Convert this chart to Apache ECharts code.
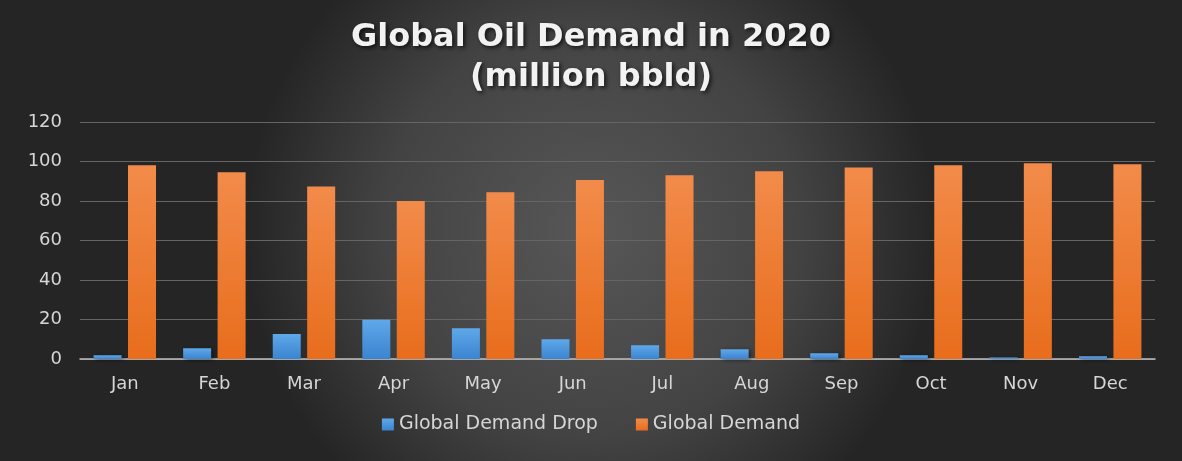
<!DOCTYPE html>
<html><head><meta charset="utf-8">
<script src="https://cdn.jsdelivr.net/npm/echarts@6/dist/echarts.min.js"></script>
<style>html,body{margin:0;padding:0;background:#333;}#c{width:1182px;height:461px;}</style>
</head><body><div id="c"></div>
<script>
const months = ['Jan','Feb','Mar','Apr','May','Jun','Jul','Aug','Sep','Oct','Nov','Dec'];
const demandDrop = [1.9, 5.5, 12.7, 19.9, 15.6, 10, 6.9, 4.9, 2.9, 1.9, 0.7, 1.4];
const demand = [98.1, 94.6, 87.4, 80, 84.4, 90.6, 93, 95.1, 97, 98.1, 99.1, 98.6];
const yTicks = [0, 20, 40, 60, 80, 100, 120];

const chart = echarts.init(document.getElementById('c'));
const lab = '#d6d6d6';
const font = 'DejaVu Sans';
chart.setOption({
  backgroundColor: {
    type: 'radial', x: 0.5, y: 0.5, r: 0.75,
    colorStops: [{offset: 0, color: '#575757'}, {offset: 0.6, color: '#434343'}, {offset: 1, color: '#252525'}]
  },
  title: {
    text: 'Global Oil Demand in 2020\n(million bbld)',
    left: 'center', top: 13,
    textStyle: {
      color: '#f2f2f2', fontFamily: font, fontWeight: 'bold', fontSize: 32, lineHeight: 40,
      textShadowColor: 'rgba(0,0,0,0.7)', textShadowBlur: 4, textShadowOffsetX: 2, textShadowOffsetY: 2
    }
  },
  legend: {
    bottom: 22, left: 'center', itemWidth: 12, itemHeight: 12, itemGap: 38, icon: 'rect',
    textStyle: {color: lab, fontSize: 19, fontFamily: font},
    data: ['Global Demand Drop', 'Global Demand']
  },
  grid: {left: 80, right: 27, top: 122, bottom: 102, containLabel: false},
  xAxis: {
    type: 'category', data: months,
    axisLine: {lineStyle: {color: '#bfbfbf', width: 1.5}},
    axisTick: {show: false},
    axisLabel: {color: lab, fontSize: 18, fontFamily: font, margin: 16}
  },
  yAxis: {
    type: 'value', min: yTicks[0], max: yTicks[yTicks.length - 1], interval: 20,
    axisLine: {show: false}, axisTick: {show: false},
    axisLabel: {color: lab, fontSize: 18, fontFamily: font, margin: 18},
    splitLine: {lineStyle: {color: '#656565', width: 1}}
  },
  series: [
    {
      name: 'Global Demand Drop', type: 'bar', data: demandDrop, barWidth: 28, barGap: '23%',
      itemStyle: {
        color: {type: 'linear', x: 0, y: 0, x2: 0, y2: 1, colorStops: [{offset: 0, color: '#5fa8ea'}, {offset: 1, color: '#3b84cf'}]},
        shadowColor: 'rgba(0,0,0,0.5)', shadowBlur: 4, shadowOffsetX: 2, shadowOffsetY: 1
      }
    },
    {
      name: 'Global Demand', type: 'bar', data: demand, barWidth: 28,
      itemStyle: {
        color: {type: 'linear', x: 0, y: 0, x2: 0, y2: 1, colorStops: [{offset: 0, color: '#f28b4a'}, {offset: 1, color: '#e86d1c'}]},
        shadowColor: 'rgba(0,0,0,0.5)', shadowBlur: 4, shadowOffsetX: 2, shadowOffsetY: 1
      }
    }
  ]
});
</script></body></html>
